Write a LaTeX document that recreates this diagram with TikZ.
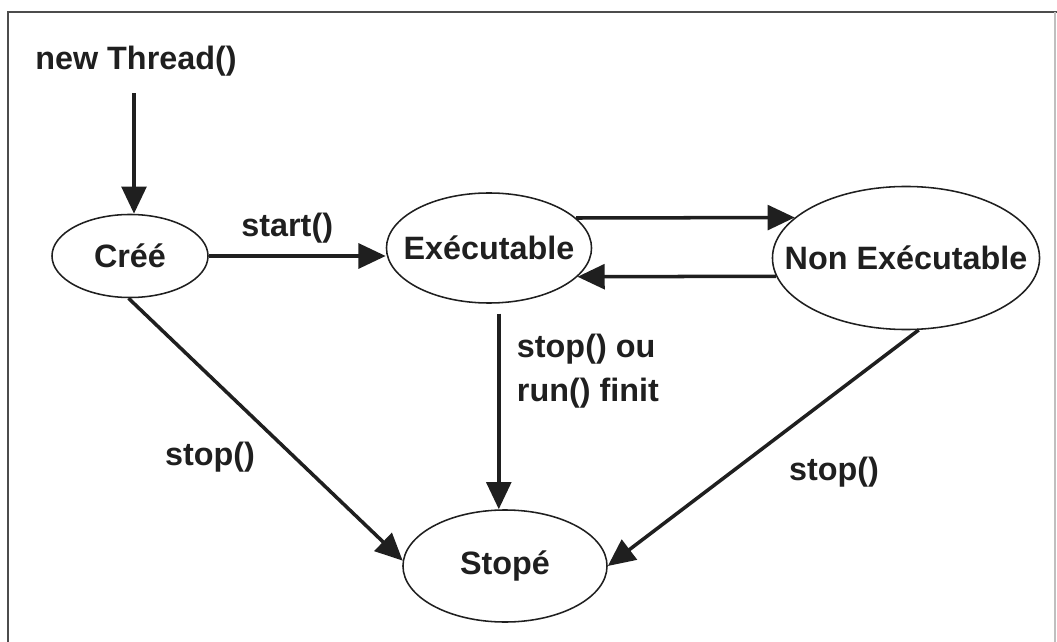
\documentclass[tikz,border=0pt]{standalone}
\usepackage{fontspec}
\setmainfont{Liberation Sans}
\usepackage{xcolor}
\colorlet{colorCadre}{black!70}
\colorlet{colorTexte}{black!88}
\usepackage{tikz}
\usetikzlibrary{arrows.meta, shapes.geometric, positioning}
\tikzset{fleche/.style={-{Triangle[length=0.68cm, width=0.62cm]}, line width=2.5pt, colorTexte}}
\newcommand{\etiq}[1]{\makebox[0pt]{#1}}

\begin{document}
\begin{tikzpicture}[x=0.025cm, y=-0.025cm, every node/.style={font=\fontsize{23}{26}\selectfont\bfseries, text=colorTexte},
  etat/.style={ellipse, draw=colorTexte, line width=1.1pt, inner sep=0pt}]
\useasboundingbox (0,0) rectangle (1057,642);
\draw[colorCadre, line width=1.6pt] (8,642) -- (8,12) -- (1057,12);
\draw[black!25, line width=0.8pt] (1055,12) -- (1055,642);
\node (nt) at (136,61) {new Thread()};
\node[etat, minimum width=3.9cm, minimum height=2.075cm] (cree) at (130,256) {\etiq{Créé}};
\node[etat, minimum width=5.125cm, minimum height=2.75cm] (exec) at (489,248) {\etiq{Exécutable}};
\node[etat, minimum width=6.675cm, minimum height=3.575cm] (nonexec) at (906,258) {\etiq{Non Exécutable}};
\node[etat, minimum width=5.1cm, minimum height=2.8cm] (stope) at (505,566) {\etiq{Stopé}};
\draw [fleche, shorten <=0.3cm] (nt.south -| 134,0) -- (134,0 |- cree.north);
\draw [fleche] (cree.east) -- (cree.east -| exec.west) node [midway, above=0.15cm, xshift=-0.25cm] {start()};
\draw [fleche] (exec.19) -- (nonexec.160);
\draw [fleche] (nonexec.188) -- (exec.-18);
\draw [fleche, shorten <=0.25cm] (exec.-80) -- (exec.-80 |- stope.north);
\draw [fleche] (cree.-92) -- (stope.177);
\draw [fleche] (nonexec.-80) -- (stope.east);
\node[align=left, anchor=west, font=\fontsize{23}{31}\selectfont\bfseries] (l1) at (512,371) {stop() ou\\run() finit};
\node (l2) at (210,457) {stop()};
\node (l3) at (834,472) {stop()};
\end{tikzpicture}
\end{document}
